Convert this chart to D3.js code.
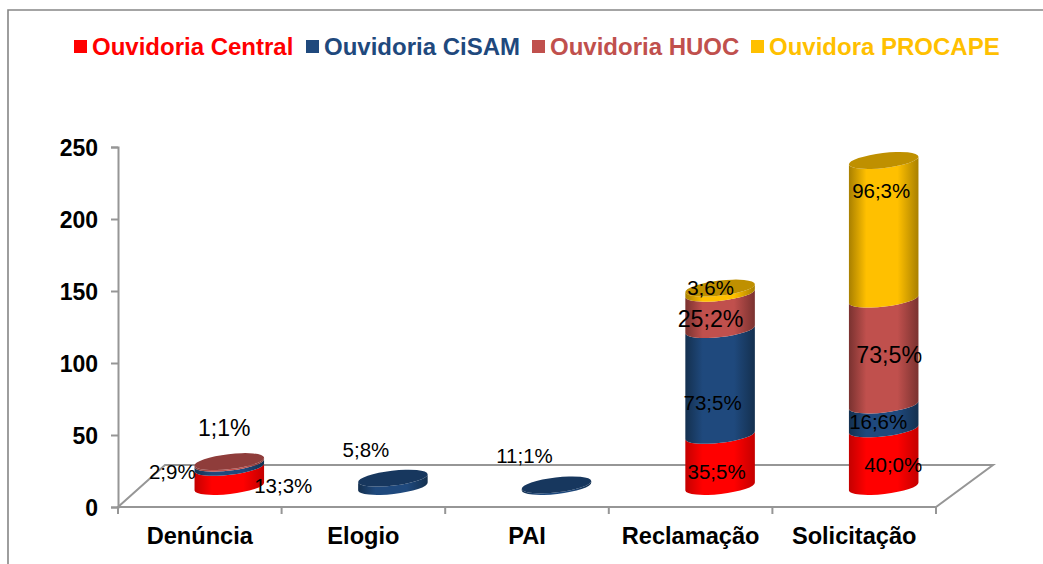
<!DOCTYPE html>
<html><head><meta charset="utf-8">
<script src="https://cdn.jsdelivr.net/npm/d3@7"></script>
<style>html,body{margin:0;padding:0;background:#fff}svg{display:block}text{font-family:"Liberation Sans",Arial,sans-serif}</style>
</head><body><svg id="c" width="1043" height="564"></svg>
<script>
const categories = ["Denúncia","Elogio","PAI","Reclamação","Solicitação"];
const seriesNames = ["Ouvidoria Central","Ouvidoria CiSAM","Ouvidoria HUOC","Ouvidora PROCAPE"];
const central = [13.3,0,0,35.5,40.0];
const cisam   = [2.9,5.8,1.1,73.5,16.6];
const huoc    = [1.1,0,0,25.2,73.5];
const procape = [0,0,0,3.6,96.3];
const centralLabels = ["13;3%",null,null,"35;5%","40;0%"];
const cisamLabels   = ["2;9%","5;8%","11;1%","73;5%","16;6%"];
const huocLabels    = ["1;1%",null,null,"25;2%","73;5%"];
const procapeLabels = [null,null,null,"3;6%","96;3%"];
const yTicks = [0,50,100,150,200,250];

const W=1043,H=564;
const svg=d3.select("#c");
const x=d3.scaleBand().domain(categories).range([118,936]);
const y=d3.scaleLinear().domain([0,250]).range([507,147]);
const depthX=29.5, depthY=20.5, rx=35, ry=7.5, tilt=6.6;
const ct=Math.cos(tilt*Math.PI/180), st=Math.sin(tilt*Math.PI/180);
const gray="#969696";

const palette=[
 {fill:"#ff0000",edge:"#c40000",top:"#c80000"},
 {fill:"#1f497d",edge:"#14304f",top:"#17375e"},
 {fill:"#c0504d",edge:"#7a3230",top:"#8f3d3b"},
 {fill:"#ffc000",edge:"#a98000",top:"#bf9000"}
];
const defs=svg.append("defs");
palette.forEach((p,i)=>{
  const g=defs.append("linearGradient").attr("id","g"+i).attr("x1",0).attr("x2",1).attr("y1",0).attr("y2",0);
  [[0,p.edge],[.25,p.fill],[.7,p.fill],[1,p.edge]].forEach(s=>g.append("stop").attr("offset",s[0]).attr("stop-color",s[1]));
});

// frame
svg.append("path").attr("d",`M8,${H}V10H${W}`).attr("fill","none").attr("stroke","#868686").attr("stroke-width",1.6);

// floor
const x0=x.range()[0],x1=x.range()[1],y0=y(0);
svg.append("path").attr("d",`M${x0},${y0}L${x0+47},${y0-42}H${x1+57}L${x1},${y0}Z`)
  .attr("fill","none").attr("stroke",gray).attr("stroke-width",2);

// axes
const yAxis=d3.axisLeft(y).tickValues(yTicks).tickSize(7).tickFormat(d3.format("d"));
const gy=svg.append("g").attr("transform",`translate(${x0},0)`).call(yAxis);
gy.select(".domain").attr("stroke",gray).attr("stroke-width",2);
gy.selectAll(".tick line").attr("stroke",gray).attr("stroke-width",2);
gy.selectAll("text").attr("font-size",23).attr("font-weight","bold").attr("fill","#000").attr("x",-20).attr("dy","0.36em");

const xAxis=d3.axisBottom(x).tickSize(0).tickPadding(20);
const gx=svg.append("g").attr("transform",`translate(0,${y0})`).call(xAxis);
gx.select(".domain").remove();
gx.selectAll("text").attr("font-size",23.6).attr("font-weight","bold").attr("fill","#000").attr("dy","0.71em");
svg.append("g").selectAll("line").data(d3.range(categories.length+1)).join("line")
  .attr("x1",i=>x0+i*x.step()).attr("x2",i=>x0+i*x.step()).attr("y1",y0).attr("y2",y0+7)
  .attr("stroke",gray).attr("stroke-width",2);

// cylinders
const stack=[central,cisam,huoc,procape];
const labels=[centralLabels,cisamLabels,huocLabels,procapeLabels];
const marks=svg.append("g");
function sidePath(cx,yb,yt){
  const lx=cx-rx*ct,rxx=cx+rx*ct;
  return `M${lx},${yb+rx*st}A${rx},${ry},${-tilt},0,0,${rxx},${yb-rx*st}`+
         `L${rxx},${yt-rx*st}A${rx},${ry},${-tilt},0,1,${lx},${yt+rx*st}Z`;
}
categories.forEach((c,ci)=>{
  const cx=x(c)+x.bandwidth()/2+depthX;
  let sum=0,last=-1,lastY=0;
  stack.forEach((s,si)=>{
    const v=s[ci]; if(!v) return;
    const yb=y(sum)-depthY; sum+=v; const yt=y(sum)-depthY;
    marks.append("path").attr("d",sidePath(cx,yb,yt)).attr("fill",`url(#g${si})`);
    last=si; lastY=yt;
  });
  marks.append("ellipse").attr("cx",0).attr("cy",0).attr("rx",rx).attr("ry",ry)
    .attr("transform",`translate(${cx},${lastY}) rotate(${-tilt})`).attr("fill",palette[last].top);
});

// data labels: offsets from each segment's centre
const labelOffsets={
 "0,0":[54,8.5,20.5],"1,0":[-57,6.5,20.5],"2,0":[-5,-34.5,23],
 "1,1":[-27,-32.5,20.5],"1,2":[-32,-30.5,20.5],
 "0,3":[-3.5,10.5,20.5],"1,3":[-7.5,20.5,20.5],"2,3":[-9.5,7.5,23.2],"3,3":[-9.5,-3.5,20.5],
 "0,4":[9.5,6.5,20.5],"1,4":[-5.5,4.5,20.5],"2,4":[5.5,2.5,23.2],"3,4":[-2.5,-39.5,20.5]
};
const lab=svg.append("g");
categories.forEach((c,ci)=>{
  const cx=x(c)+x.bandwidth()/2+depthX;
  let sum=0;
  stack.forEach((s,si)=>{
    const v=s[ci]; if(!v) return;
    const yb=y(sum)-depthY; sum+=v; const yt=y(sum)-depthY;
    const o=labelOffsets[si+","+ci];
    lab.append("text").text(labels[si][ci]).attr("x",cx+o[0]).attr("y",(yb+yt)/2+o[1])
      .attr("text-anchor","middle").attr("dominant-baseline","central").attr("font-size",o[2]).attr("fill","#000");
  });
});

// legend
const legendX=[74,306,532,751];
const lg=svg.append("g").selectAll("g").data(seriesNames).join("g").attr("transform",(d,i)=>`translate(${legendX[i]},40)`);
lg.append("rect").attr("width",13).attr("height",13).attr("fill",(d,i)=>palette[i].fill);
lg.append("text").text(d=>d).attr("x",18).attr("y",15).attr("font-size",24).attr("font-weight","bold").attr("fill",(d,i)=>palette[i].fill);
</script></body></html>
